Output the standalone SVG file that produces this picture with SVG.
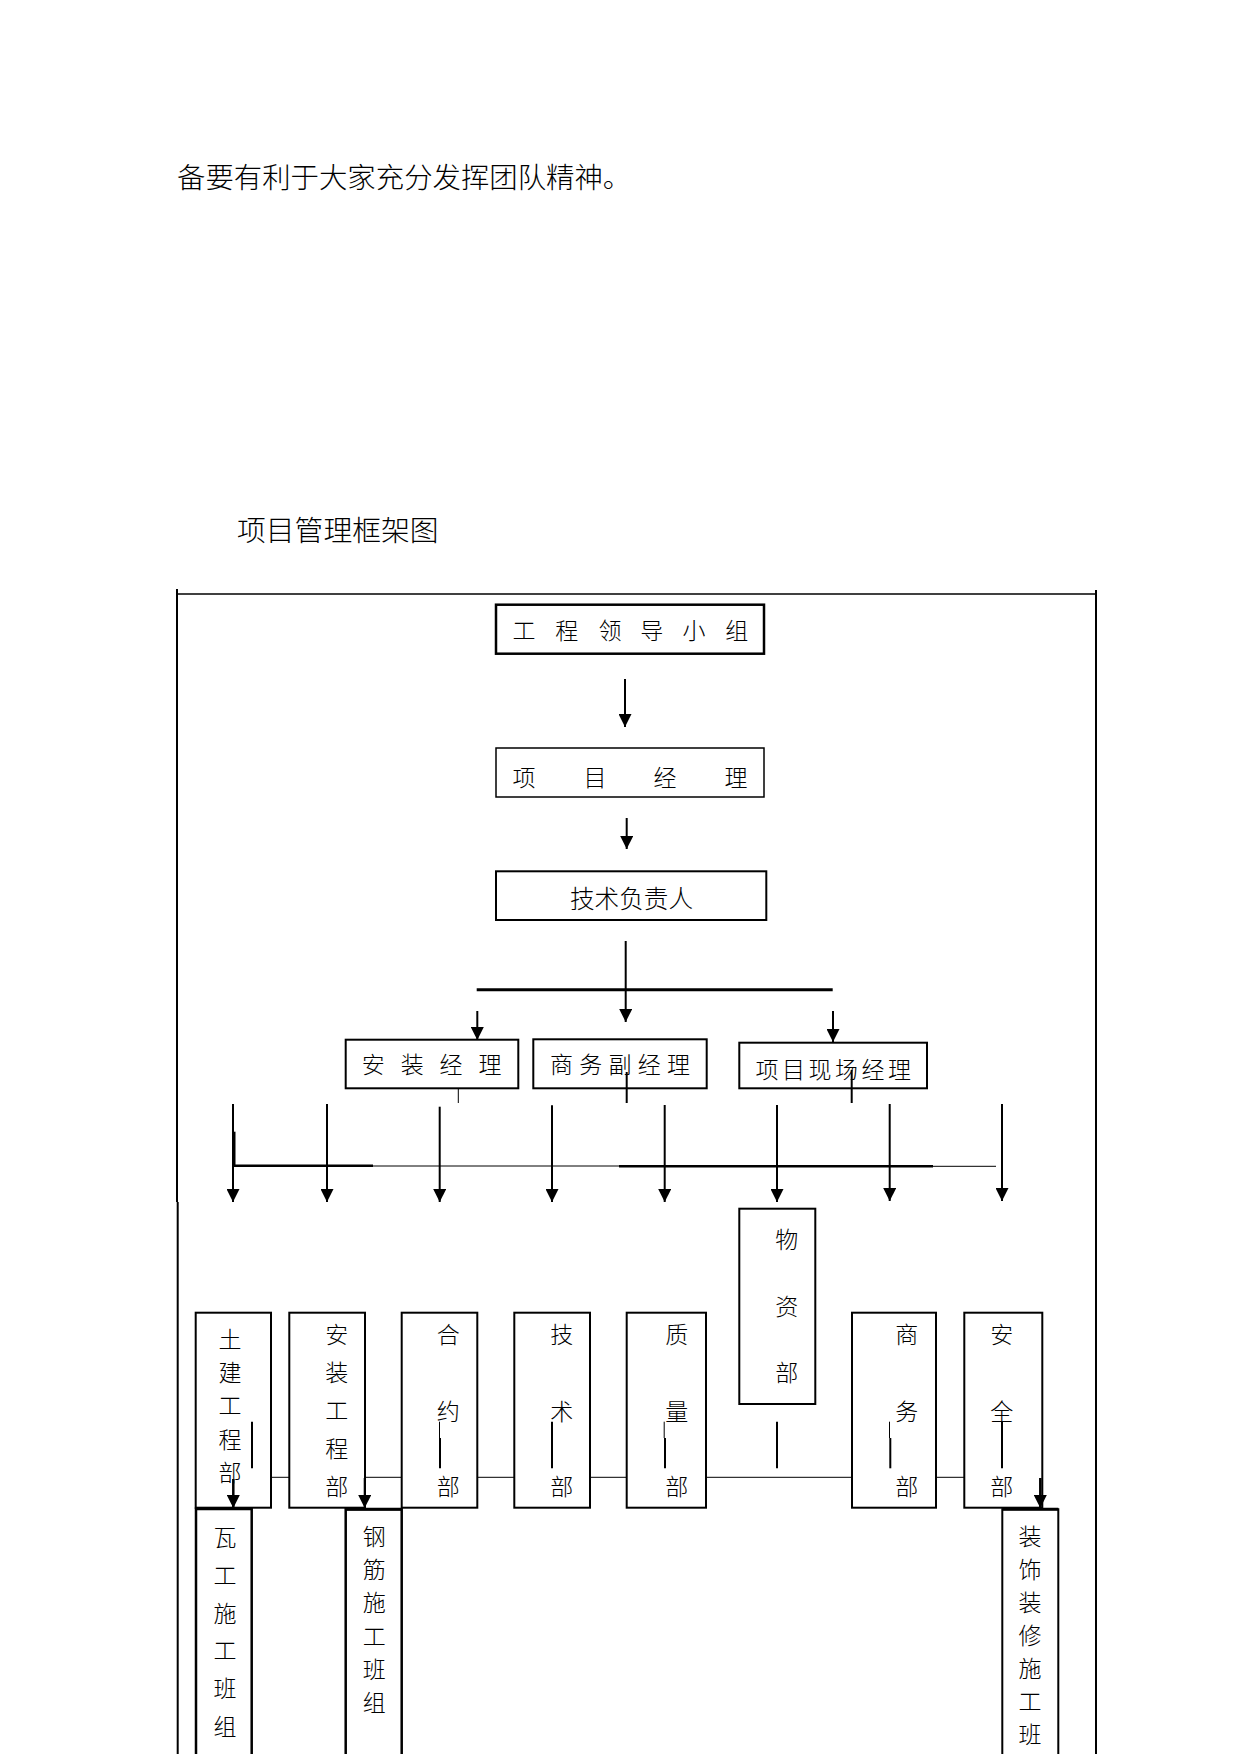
<svg xmlns="http://www.w3.org/2000/svg" width="1241" height="1754" viewBox="0 0 1241 1754">
<style>
  text { font-family: "Noto Sans CJK SC", "Noto Sans", sans-serif; fill: #000; font-weight: 300; }
  .t { font-size: 23px; text-anchor: middle; }
  .para { font-size: 28.4px; }
  .box { fill: none; stroke: #000; stroke-width: 2; }
  .ln { stroke: #000; stroke-width: 2; fill: none; }
  .thin { stroke: #000; stroke-width: 1; fill: none; }
  .thick { stroke: #000; stroke-width: 3; fill: none; }
  .arr { stroke: #000; stroke-width: 2; fill: none; marker-end: url(#ah); }
</style>
<defs>
  <marker id="ah" markerUnits="userSpaceOnUse" markerWidth="13" markerHeight="13" viewBox="0 0 12 12" refX="12" refY="6" orient="auto">
    <path d="M0,0 L12,6 L0,12 z" fill="#000"/>
  </marker>
</defs>
<rect width="1241" height="1754" fill="#fff"/>

<g id="intro-text">
  <text class="para" x="177" y="188">备要有利于大家充分发挥团队精神。</text>
  <text class="para" x="237" y="541" style="font-size:28.8px">项目管理框架图</text>
</g>

<g id="frame">
  <line class="ln" x1="177" y1="594" x2="1096" y2="594" style="stroke-width:1.5"/>
  <line class="ln" x1="177" y1="589" x2="177" y2="1202"/>
  <line class="ln" x1="177.7" y1="1202" x2="177.7" y2="1754"/>
  <line class="ln" x1="1096" y1="590" x2="1096" y2="1754"/>
</g>

<g id="connectors">
  <line class="arr" x1="625" y1="679" x2="625" y2="727"/>
  <line class="arr" x1="626.7" y1="818" x2="626.7" y2="849"/>
  <line class="arr" x1="625.7" y1="941" x2="625.7" y2="1022"/>
  <line class="thick" x1="476.7" y1="989.7" x2="832.7" y2="989.7"/>
  <line class="arr" x1="477.3" y1="1011" x2="477.3" y2="1040"/>
  <line class="arr" x1="833" y1="1011" x2="833" y2="1042"/>

  <line class="thin" x1="458.3" y1="1088" x2="458.3" y2="1103"/>
  <line class="ln" x1="626.7" y1="1072" x2="626.7" y2="1103"/>
  <line class="ln" x1="851.7" y1="1070" x2="851.7" y2="1103"/>

  <line class="arr" x1="233" y1="1104" x2="233" y2="1202"/>
  <line class="thick" x1="234" y1="1131.7" x2="234" y2="1166"/>
  <line class="arr" x1="327" y1="1104" x2="327" y2="1202"/>
  <line class="arr" x1="439.7" y1="1106.7" x2="439.7" y2="1202"/>
  <line class="arr" x1="552" y1="1105.3" x2="552" y2="1202"/>
  <line class="arr" x1="664.7" y1="1105" x2="664.7" y2="1202"/>
  <line class="arr" x1="777" y1="1105" x2="777" y2="1202"/>
  <line class="arr" x1="889.7" y1="1104" x2="889.7" y2="1201"/>
  <line class="arr" x1="1002" y1="1104" x2="1002" y2="1201"/>

  <line class="thick" x1="234" y1="1165.7" x2="373" y2="1165.7" style="stroke-width:2.5"/>
  <line class="thin" x1="373" y1="1166" x2="619" y2="1166"/>
  <line class="thick" x1="619" y1="1166.3" x2="933" y2="1166.3" style="stroke-width:2.5"/>
  <line class="thin" x1="933" y1="1166.3" x2="996" y2="1166.3"/>

  <line class="ln" x1="252" y1="1421.7" x2="252" y2="1468.3"/>
  <line class="thin" x1="439.5" y1="1421.7" x2="439.5" y2="1438"/>
  <line class="ln" x1="440" y1="1438" x2="440" y2="1468.3"/>
  <line class="ln" x1="552" y1="1421.7" x2="552" y2="1468.3"/>
  <line class="thin" x1="664.2" y1="1421.7" x2="664.2" y2="1438"/>
  <line class="ln" x1="665" y1="1438" x2="665" y2="1468.3"/>
  <line class="ln" x1="777" y1="1421.7" x2="777" y2="1468.3"/>
  <line class="thin" x1="889.5" y1="1421.7" x2="889.5" y2="1438"/>
  <line class="ln" x1="890.3" y1="1438" x2="890.3" y2="1468.3"/>
  <line class="ln" x1="1002" y1="1421.7" x2="1002" y2="1468.3"/>

  <line class="thin" x1="271" y1="1477.3" x2="289.3" y2="1477.3"/>
  <line class="thin" x1="365" y1="1477.3" x2="401.7" y2="1477.3"/>
  <line class="thin" x1="477.3" y1="1477.3" x2="514.3" y2="1477.3"/>
  <line class="thin" x1="590" y1="1477.3" x2="626.7" y2="1477.3"/>
  <line class="thin" x1="706" y1="1477.3" x2="852" y2="1477.3"/>
  <line class="thin" x1="936" y1="1477.3" x2="964.3" y2="1477.3"/>

  <line class="arr" x1="233.3" y1="1479" x2="233.3" y2="1508" style="stroke-width:2.5"/>
  <line class="arr" x1="364.7" y1="1478" x2="364.7" y2="1508"/>
  <line class="arr" x1="1040.3" y1="1478" x2="1040.3" y2="1508" style="stroke-width:2.5"/>
</g>

<g id="n-leader">
  <rect class="box" x="496" y="604.7" width="268" height="49" style="stroke-width:2.5"/>
  <text class="t" x="524 566.7 610 651.7 694 736.7" y="638.5">工程领导小组</text>
</g>
<g id="n-pm">
  <rect class="box" x="496" y="748" width="268" height="49" style="stroke-width:1.5"/>
  <text class="t" x="524 595 665 736" y="785.5">项目经理</text>
</g>
<g id="n-tech">
  <rect class="box" x="496" y="871.3" width="270.3" height="48.7"/>
  <text class="t" x="631.5" y="907.5" style="font-size:24.6px">技术负责人</text>
</g>
<g id="n-install-mgr">
  <rect class="box" x="345.7" y="1039.7" width="172.6" height="48.6"/>
  <text class="t" x="373.3 412.3 451 490" y="1073.3">安装经理</text>
</g>
<g id="n-biz-mgr">
  <rect class="box" x="533.3" y="1039.3" width="173.4" height="49"/>
  <text class="t" x="561.5 590.7 620 649.2 678.5" y="1073.3">商务副经理</text>
</g>
<g id="n-site-mgr">
  <rect class="box" x="739.3" y="1042.7" width="187.7" height="45.6"/>
  <text class="t" x="767 793.5 820 846.5 873 899.5" y="1078.3">项目现场经理</text>
</g>

<g id="n-civil">
  <rect class="box" x="195.7" y="1312.7" width="75.3" height="195"/>
  <text class="t" x="230 230 230 230 230" y="1348 1381 1414 1448 1481">土建工程部</text>
</g>
<g id="n-install">
  <rect class="box" x="289.3" y="1312.7" width="75.7" height="195"/>
  <text class="t" x="336.7 336.7 336.7 336.7 336.7" y="1343 1381 1419 1457 1495">安装工程部</text>
</g>
<g id="n-contract">
  <rect class="box" x="401.7" y="1312.7" width="75.6" height="195"/>
  <text class="t" x="448.3 448.3 448.3" y="1343 1419.7 1495">合约部</text>
</g>
<g id="n-techdept">
  <rect class="box" x="514.3" y="1312.7" width="75.7" height="195"/>
  <text class="t" x="561.7 561.7 561.7" y="1343 1419.7 1495">技术部</text>
</g>
<g id="n-quality">
  <rect class="box" x="626.7" y="1312.7" width="79.3" height="195"/>
  <text class="t" x="676.7 676.7 676.7" y="1343 1419.7 1495">质量部</text>
</g>
<g id="n-material">
  <rect class="box" x="739.3" y="1208.7" width="76" height="195.3"/>
  <text class="t" x="786.7 786.7 786.7" y="1248 1314.7 1381.3">物资部</text>
</g>
<g id="n-business">
  <rect class="box" x="852" y="1312.7" width="84" height="195"/>
  <text class="t" x="906.7 906.7 906.7" y="1343 1419.7 1495">商务部</text>
</g>
<g id="n-safety">
  <rect class="box" x="964.3" y="1312.7" width="78" height="195"/>
  <text class="t" x="1001.7 1001.7 1001.7" y="1343 1419.7 1495">安全部</text>
</g>

<g id="n-tile">
  <path class="box" d="M196,1770 V1508.7 H251.7 V1770" style="stroke-width:2.5"/>
  <line class="thick" x1="196" y1="1508.7" x2="251.7" y2="1508.7"/>
  <text class="t" x="225 225 225 225 225 225" y="1546 1584 1621.5 1659 1697 1734.7">瓦工施工班组</text>
</g>
<g id="n-rebar">
  <path class="box" d="M345.7,1770 V1509.3 H401.7 V1770" style="stroke-width:2.5"/>
  <line class="thick" x1="345.7" y1="1509.3" x2="401.7" y2="1509.3"/>
  <text class="t" x="374.3 374.3 374.3 374.3 374.3 374.3" y="1544.7 1578 1611.3 1644.7 1678 1711.3">钢筋施工班组</text>
</g>
<g id="n-decor">
  <path class="box" d="M1002.3,1770 V1509.3 H1058.3 V1770"/>
  <line class="thick" x1="1002.3" y1="1509.3" x2="1058.3" y2="1509.3"/>
  <text class="t" x="1030 1030 1030 1030 1030 1030 1030" y="1544.7 1577.7 1610.7 1643.7 1676.7 1709.7 1742.7">装饰装修施工班</text>
</g>
</svg>
